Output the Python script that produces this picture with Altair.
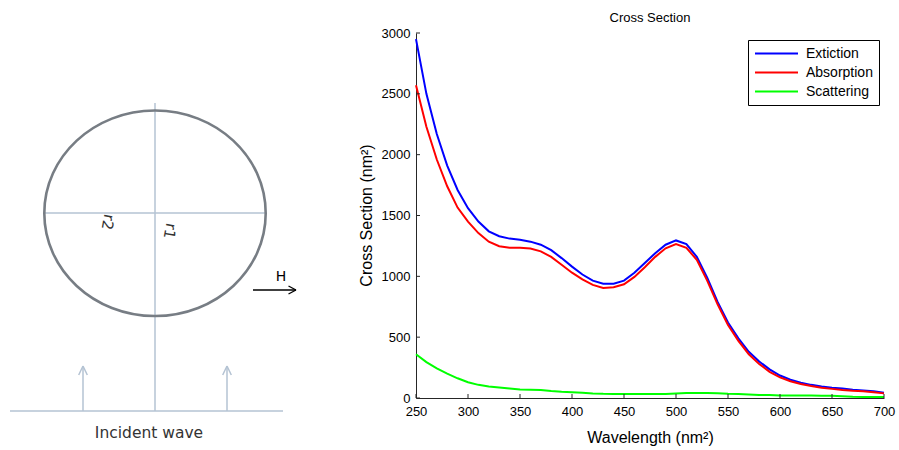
import altair as alt
import pandas as pd

# ---- spectra (nm, nm^2) ----
wavelength = [250, 260, 270, 280, 290, 300, 310, 320, 330, 340,
              350, 360, 370, 380, 390, 400, 410, 420, 430, 440,
              450, 460, 470, 480, 490, 500, 510, 520, 530, 540,
              550, 560, 570, 580, 590, 600, 610, 620, 630, 640,
              650, 660, 670, 680, 690, 700]
extinction = [2950, 2500, 2170, 1910, 1710, 1560, 1450, 1370, 1330, 1310,
              1300, 1285, 1260, 1215, 1150, 1080, 1015, 965, 940, 940,
              965, 1030, 1110, 1190, 1260, 1295, 1265, 1160, 990, 790,
              620, 490, 380, 300, 235, 185, 150, 125, 108, 95,
              85, 78, 68, 62, 55, 44]
absorption = [2570, 2230, 1960, 1740, 1565, 1450, 1355, 1285, 1248, 1235,
              1235, 1228, 1205, 1160, 1095, 1030, 975, 930, 905, 910,
              935, 995, 1075, 1160, 1230, 1265, 1235, 1135, 965, 770,
              600, 470, 360, 280, 215, 170, 138, 115, 98, 85,
              75, 66, 60, 56, 48, 38]
scattering = [360, 295, 244, 200, 162, 130, 108, 95, 86, 78,
              70, 68, 66, 58, 52, 48, 44, 38, 34, 32,
              32, 32, 32, 32, 33, 38, 42, 42, 42, 40,
              35, 32, 28, 25, 24, 20, 20, 20, 20, 18,
              18, 15, 10, 8, 8, 8]

series_names = ["Extiction", "Absorption", "Scattering"]
series_colors = ["#0000ff", "#ff0000", "#00ff00"]

x_ticks = [250, 300, 350, 400, 450, 500, 550, 600, 650, 700]
y_ticks = [0, 500, 1000, 1500, 2000, 2500, 3000]

# ---- particle sketch (page pixels, y downwards) ----
guide_x = [155, 44, 10, 83, 227, 78.7, 87.3, 222.7, 231.3]
guide_y = [103, 213, 411, 411, 411, 375, 375, 375, 375]
guide_x2 = [155, 266, 283, 83, 227, 83, 83, 227, 227]
guide_y2 = [411, 213, 411, 367, 367, 366, 366, 366, 366]

field_x = [253, 288.5, 288.5]
field_y = [290, 286, 294]
field_x2 = [296, 296, 296]
field_y2 = [290, 290, 290]

ellipse_cx = [155]
ellipse_cy = [213.3]
ELLIPSE_PATH = "M-1,0 A1,0.928 0 1,1 1,0 A1,0.928 0 1,1 -1,0 Z"

radius_labels = ["r2", "r1"]
radius_x = [108, 170]
radius_y = [222, 231]

wave_label = ["Incident wave"]
wave_x = [149]
wave_y = [433]

field_label = ["H"]
field_lx = [281]
field_ly = [277]

FONT = "Liberation Sans"
SKETCH_FONT = "DejaVu Sans"
AXIS_COLOR = "#262626"

# ---- line chart ----
curves = pd.DataFrame({
    "wl": wavelength * 3,
    "cs": extinction + absorption + scattering,
    "series": [s for s in series_names for _ in wavelength],
})

x_enc = alt.X(
    "wl:Q",
    title="Wavelength (nm²)",
    scale=alt.Scale(domain=[250, 700], nice=False, zero=False),
    axis=alt.Axis(orient="bottom", values=x_ticks, format="d", ticks=False, tickSize=0,
                  labelPadding=17, labelBaseline="alphabetic", labelFlush=False,
                  labelFont=FONT, labelFontSize=13, labelColor="black",
                  domainColor=AXIS_COLOR, grid=False,
                  titleFont=FONT, titleFontSize=16, titleFontWeight="normal",
                  titleColor="black", titleBaseline="alphabetic", titleY=44),
)
y_enc = alt.Y(
    "cs:Q",
    title="Cross Section (nm²)",
    scale=alt.Scale(domain=[0, 3000], nice=False, zero=False),
    axis=alt.Axis(orient="left", values=y_ticks, format="d", ticks=False, tickSize=0,
                  labelPadding=6, labelFlush=False,
                  labelFont=FONT, labelFontSize=13, labelColor="black",
                  domainColor=AXIS_COLOR, grid=False,
                  titleFont=FONT, titleFontSize=16, titleFontWeight="normal",
                  titleColor="black", titleBaseline="alphabetic",
                  titleAngle=270, titleAlign="center", titleX=-45, titleY=182),
)
color_enc = alt.Color(
    "series:N",
    scale=alt.Scale(domain=series_names, range=series_colors),
    legend=alt.Legend(title=None, orient="none", legendX=332, legendY=7,
                      symbolType="stroke", symbolSize=1849, symbolStrokeWidth=2,
                      labelFont=FONT, labelFontSize=14, labelColor="black",
                      labelOffset=7, rowPadding=4, padding=6, clipHeight=15,
                      strokeColor="black", fillColor="white", cornerRadius=0),
)

lines = [
    alt.Chart(curves)
    .transform_filter(alt.datum.series == name)
    .mark_line(strokeWidth=2)
    .encode(x=x_enc, y=y_enc, color=color_enc)
    for name in series_names
]

x_tick_marks = alt.Chart(pd.DataFrame({"wl": x_ticks})).mark_rule(
    color=AXIS_COLOR, strokeWidth=1
).encode(x=x_enc, y=alt.value(365), y2=alt.value(361))

y_tick_marks = alt.Chart(pd.DataFrame({"cs": y_ticks})).mark_rule(
    color=AXIS_COLOR, strokeWidth=1
).encode(y=y_enc, x=alt.value(0), x2=alt.value(4))

plot = alt.layer(*lines, x_tick_marks, y_tick_marks)

# ---- sketch of the particle and incident wave ----
sx = alt.Scale(domain=[0, 899], range=[-416, 483], nice=False, zero=False)
sy = alt.Scale(domain=[0, 450], range=[-33, 417], nice=False, zero=False)


def px(field):
    return alt.X(field, type="quantitative", scale=sx, axis=None)


def py(field):
    return alt.Y(field, type="quantitative", scale=sy, axis=None)


guides = alt.Chart(pd.DataFrame({"x": guide_x, "y": guide_y, "x2": guide_x2, "y2": guide_y2})).mark_rule(
    color="#b4c3d3", strokeWidth=1.5
).encode(x=px("x"), y=py("y"), x2="x2:Q", y2="y2:Q")

field_arrow = alt.Chart(pd.DataFrame({"x": field_x, "y": field_y, "x2": field_x2, "y2": field_y2})).mark_rule(
    color="black", strokeWidth=1.3
).encode(x=px("x"), y=py("y"), x2="x2:Q", y2="y2:Q")

ellipse = alt.Chart(pd.DataFrame({"x": ellipse_cx, "y": ellipse_cy})).mark_point(
    shape=ELLIPSE_PATH, size=49018, filled=False, color="#777d84",
    strokeWidth=2.6, opacity=1
).encode(x=px("x"), y=py("y"))

radius_text = alt.Chart(pd.DataFrame({"t": radius_labels, "x": radius_x, "y": radius_y})).mark_text(
    font=SKETCH_FONT, fontSize=15, color="#333333", angle=100,
    align="center", baseline="middle"
).encode(x=px("x"), y=py("y"), text="t:N")

wave_text = alt.Chart(pd.DataFrame({"t": wave_label, "x": wave_x, "y": wave_y})).mark_text(
    font=SKETCH_FONT, fontSize=15.5, color="#333333", align="center", baseline="middle"
).encode(x=px("x"), y=py("y"), text="t:N")

field_text = alt.Chart(pd.DataFrame({"t": field_label, "x": field_lx, "y": field_ly})).mark_text(
    font=SKETCH_FONT, fontSize=14, color="black", align="center", baseline="middle"
).encode(x=px("x"), y=py("y"), text="t:N")

sketch = alt.layer(guides, ellipse, field_arrow, radius_text, wave_text, field_text)

chart = (
    alt.layer(sketch, plot)
    .resolve_scale(x="independent", y="independent", color="independent")
    .properties(
        width=468,
        height=365,
        title=alt.TitleParams("Cross Section", font=FONT, fontSize=13,
                              fontWeight="normal", color="black",
                              anchor="middle", frame="group", offset=2),
        autosize=alt.AutoSizeParams(type="none"),
        padding={"left": 416, "top": 33, "right": 15, "bottom": 52},
    )
    .configure_view(stroke=None)
)

chart.save("out.html", embed_options={"renderer": "svg", "actions": False})
